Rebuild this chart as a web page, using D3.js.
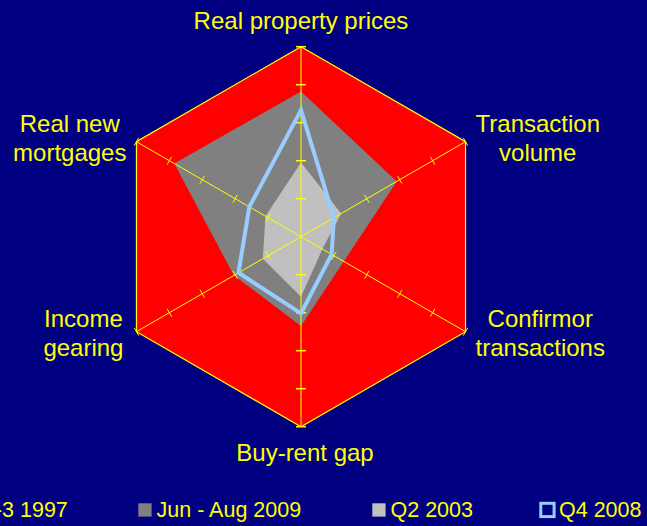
<!DOCTYPE html>
<html>
<head>
<meta charset="utf-8">
<script src="https://cdn.jsdelivr.net/npm/d3@7"></script>
<style>
  html, body { margin: 0; padding: 0; background: #000080; overflow: hidden; }
  svg { display: block; }
  text { font-family: "Liberation Sans", Arial, sans-serif; fill: #FFFF00; }
</style>
</head>
<body>
<svg id="chart" width="647" height="526"></svg>
<script>
// ---- data ----
const axesLabels = [
  ["Real property prices"],
  ["Transaction", "volume"],
  ["Confirmor", "transactions"],
  ["Buy-rent gap"],
  ["Income", "gearing"],
  ["Real new", "mortgages"]
];
const seriesNames = ["Q1-3 1997", "Jun - Aug 2009", "Q2 2003", "Q4 2008"];
const s1997 = [5, 5, 5, 5, 5, 5];
const s2009 = [3.82, 2.91, 1.3, 2.35, 2.04, 3.85];
const s2003 = [1.95, 1.22, 0.65, 1.58, 1.16, 1.08];
const s2008 = [3.33, 1.0, 0.93, 2.02, 1.9, 1.57];
const valueMax = 5;

// ---- layout ----
const W = 647, H = 526;
const cx = 301, cy = 236.7, R = 190;
const svg = d3.select("#chart");
svg.append("rect").attr("width", W).attr("height", H).attr("fill", "#000080");

const r = d3.scaleLinear().domain([0, valueMax]).range([0, R]);
const ang = d3.scaleLinear().domain([0, axesLabels.length]).range([0, 2 * Math.PI]);

const g = svg.append("g").attr("transform", `translate(${cx},${cy})`);
const radial = d3.lineRadial()
  .angle((d, i) => ang(i))
  .radius(d => r(d))
  .curve(d3.curveLinearClosed);

// filled series
g.append("path").attr("d", radial(s1997)).attr("fill", "#FF0000");
g.append("path").attr("d", radial(s2009)).attr("fill", "#808080");
g.append("path").attr("d", radial(s2003)).attr("fill", "#C0C0C0");

// spokes + ticks
const pt = (i, v) => {
  const a = ang(i);
  return [Math.sin(a) * r(v), -Math.cos(a) * r(v)];
};
const tickVals = r.ticks(5).filter(v => v > 0);
axesLabels.forEach((lab, i) => {
  const [x2, y2] = pt(i, valueMax);
  g.append("line").attr("x1", 0).attr("y1", 0).attr("x2", x2).attr("y2", y2)
    .attr("stroke", "#FFFF00").attr("stroke-width", 1);
  const a = ang(i);
  const px = Math.cos(a), py = Math.sin(a); // perpendicular
  const half = (i % 3 === 0) ? 5 : 4.5;
  tickVals.forEach(v => {
    const [x, y] = pt(i, v);
    g.append("line")
      .attr("x1", x - px * half).attr("y1", y - py * half)
      .attr("x2", x + px * half).attr("y2", y + py * half)
      .attr("stroke", "#FFFF00").attr("stroke-width", (i % 3 === 0) ? 1.5 : 1);
  });
});

// outer grid hexagon
g.append("path").attr("d", radial(axesLabels.map(() => valueMax)))
  .attr("fill", "none").attr("stroke", "#FFFF00").attr("stroke-width", 1.2);

// line series
g.append("path").attr("d", radial(s2008))
  .attr("fill", "none").attr("stroke", "#99CCFF").attr("stroke-width", 4)
  .attr("stroke-linejoin", "miter");

// axis labels
const lh = 28.7;
axesLabels.forEach((lines, i) => {
  const [vx, vy] = pt(i, valueMax);
  const X = cx + vx, Y = cy + vy;
  const t = svg.append("text").attr("font-size", 24);
  lines.forEach((ln, k) => t.append("tspan").text(ln));
  const tsp = t.selectAll("tspan").nodes();
  const widths = tsp.map(n => n.getComputedTextLength());
  const wmax = d3.max(widths);
  let centerX, baseY;
  if (i === 0) { centerX = X; baseY = Y - 17.4; }
  else if (i === 3) { centerX = X + 4; baseY = Y + 34.3; }
  else {
    const right = Math.sin(ang(i)) > 0;
    const upper = Math.cos(ang(i)) > 0;
    const gap = (!right && !upper) ? 13 : 10;
    centerX = right ? X + gap + wmax / 2 : X - gap - wmax / 2;
    baseY = upper ? Y - 9.4 : Y - 4.4;
  }
  t.attr("text-anchor", "middle");
  t.selectAll("tspan").attr("x", centerX).attr("y", (d, k) => baseY + k * lh);
});

// legend
const legX = [-52, 138.3, 372.3, 540.8];
const legFill = ["#FF0000", "#808080", "#C0C0C0", "#000080"];
const sq = 13.3, legY = 503.3;
seriesNames.forEach((name, i) => {
  const lg = svg.append("g");
  const rect = lg.append("rect").attr("x", legX[i]).attr("y", legY)
    .attr("width", sq).attr("height", sq).attr("fill", legFill[i]);
  if (i === 3) rect.attr("stroke", "#99CCFF").attr("stroke-width", 3);
  lg.append("text").attr("x", legX[i] + 18.2).attr("y", 517.3)
    .attr("font-size", 21.5).text(name);
});
</script>
</body>
</html>
